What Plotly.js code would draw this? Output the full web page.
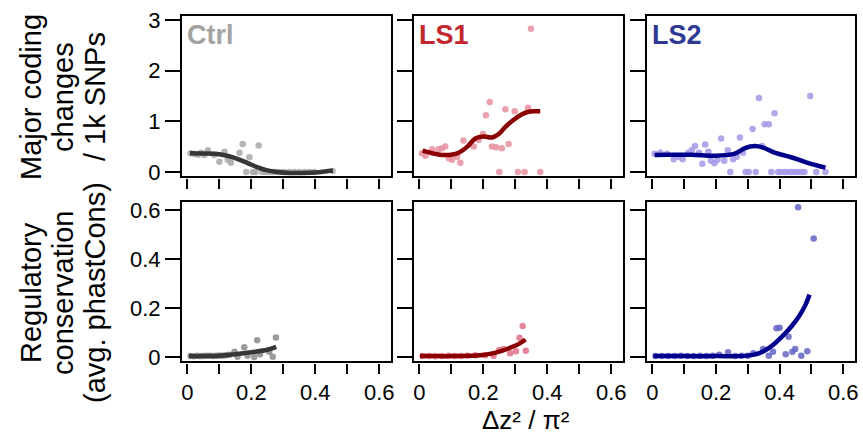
<!DOCTYPE html>
<html>
<head>
<meta charset="utf-8">
<script src="https://cdn.plot.ly/plotly-3.0.1.min.js"></script>
<style>html,body{margin:0;padding:0;background:#fff;} #chart{width:863px;height:435px;}</style>
</head>
<body>
<div id="chart"></div>
<script>
// ---------- data ----------
const panelLabels = ['Ctrl', 'LS1', 'LS2'];
const rowTitles = [['Major coding', 'changes', '/ 1k SNPs'], ['Regulatory', 'conservation', '(avg. phastCons)']];
const xTitle = 'Δz² / π²';
const xTickVals = [0, 0.2, 0.4, 0.6];
const xTickText = ['0', '0.2', '0.4', '0.6'];
const xMinorTickVals = [0.1, 0.3, 0.5];
const topYTickVals = [0, 1, 2, 3];
const topYTickText = ['0', '1', '2', '3'];
const botYTickVals = [0, 0.2, 0.4, 0.6];
const botYTickText = ['0', '0.2', '0.4', '0.6'];

// Top row: major coding changes / 1k SNPs
const ctrlTopX = [0.01,0.022,0.033,0.043,0.053,0.064,0.084,0.1,0.116,0.126,0.136,0.163,0.173,0.184,0.194,0.205,0.213,0.223,0.234,0.246,0.256,0.267,0.277,0.288,0.303,0.319,0.334,0.35,0.366,0.381,0.397,0.454];
const ctrlTopY = [0.37,0.355,0.34,0.38,0.335,0.43,0.335,0.2,0.40,0.24,0.18,0.38,0.55,0,0.29,0,0,0.52,0,0,0,0,0,0,0,0,0,0,0,0,0,0.02];
const ctrlTopFitX = [0.008,0.05,0.10,0.13,0.16,0.19,0.22,0.25,0.28,0.32,0.36,0.40,0.43,0.455];
const ctrlTopFitY = [0.37,0.365,0.35,0.31,0.25,0.17,0.09,0.03,0.0,-0.02,-0.02,-0.01,0.01,0.03];

const ls1TopX = [0.008,0.019,0.04,0.06,0.071,0.081,0.092,0.102,0.118,0.128,0.138,0.17,0.185,0.199,0.208,0.22,0.227,0.24,0.25,0.258,0.269,0.279,0.298,0.308,0.329,0.34,0.349,0.378];
const ls1TopY = [0.37,0.32,0.45,0.45,0.47,0.50,0.27,0.24,0.30,0.18,0.62,0.50,0.63,0.75,1.12,1.38,0.50,0.49,0,0.47,1.24,0.55,1.20,0,0,1.27,2.83,0];
const ls1TopFitX = [0.01,0.04,0.071,0.10,0.123,0.15,0.175,0.2,0.227,0.25,0.269,0.295,0.321,0.342,0.36,0.378];
const ls1TopFitY = [0.42,0.37,0.335,0.34,0.38,0.50,0.66,0.70,0.68,0.76,0.89,1.03,1.14,1.19,1.20,1.20];

const ls2TopX = [0.007,0.025,0.046,0.067,0.082,0.095,0.113,0.124,0.134,0.147,0.157,0.166,0.176,0.184,0.195,0.205,0.216,0.226,0.237,0.245,0.254,0.265,0.275,0.285,0.293,0.303,0.315,0.325,0.335,0.345,0.353,0.366,0.374,0.384,0.395,0.405,0.416,0.426,0.436,0.447,0.457,0.468,0.478,0.496,0.515,0.544];
const ls2TopY = [0.36,0.38,0.36,0.25,0.30,0.25,0.38,0.43,0.51,0.38,0.16,0.54,0.40,0.22,0.17,0.24,0.66,0.22,0.43,0,0.25,0.30,0.68,0.38,0,0,0.85,0,1.46,0.51,0.94,0.94,0,1.16,0,0,0,0,0,0,0,0,0,1.50,0,0];
const ls2TopFitX = [0.007,0.05,0.124,0.197,0.259,0.291,0.322,0.348,0.384,0.436,0.488,0.544];
const ls2TopFitY = [0.335,0.34,0.34,0.32,0.36,0.47,0.51,0.48,0.38,0.29,0.18,0.085];

// Bottom row: regulatory conservation (avg. phastCons)
const ctrlBotX = [0.01,0.02,0.03,0.04,0.05,0.06,0.07,0.08,0.09,0.10,0.11,0.12,0.13,0.147,0.157,0.178,0.188,0.209,0.218,0.227,0.256,0.267,0.277];
const ctrlBotY = [0.004,0.003,0.005,0.004,0.004,0.006,0.005,0.004,0.006,0.007,0.006,0.008,0.01,0.022,0.001,0.04,0.006,0.0,0.069,0.012,0.022,0.001,0.08];
const ctrlBotFitX = [0.005,0.05,0.1,0.15,0.2,0.25,0.278];
const ctrlBotFitY = [0.004,0.004,0.006,0.012,0.02,0.03,0.042];

const ls1BotX = [0.01,0.03,0.05,0.07,0.09,0.11,0.13,0.15,0.175,0.206,0.232,0.25,0.263,0.284,0.302,0.313,0.323,0.333];
const ls1BotY = [0.004,0.004,0.003,0.004,0.005,0.004,0.004,0.005,0.008,0.008,0.006,0.029,0.033,0.016,0.024,0.079,0.127,0.026];
const ls1BotFitX = [0.002,0.05,0.1,0.15,0.19,0.22,0.25,0.28,0.31,0.332];
const ls1BotFitY = [0.004,0.004,0.004,0.005,0.008,0.013,0.022,0.036,0.053,0.072];

const ls2BotX = [0.01,0.03,0.05,0.07,0.09,0.11,0.13,0.15,0.17,0.19,0.21,0.238,0.26,0.28,0.30,0.317,0.348,0.366,0.379,0.39,0.40,0.419,0.428,0.44,0.449,0.458,0.468,0.487,0.507];
const ls2BotY = [0.004,0.004,0.004,0.004,0.005,0.004,0.004,0.005,0.004,0.005,0.01,0.02,0.004,0.006,0.006,0.016,0.033,0.006,0.022,0.118,0.12,0.012,0.083,0.022,0.033,0.611,0.006,0.024,0.484];
const ls2BotFitX = [0.003,0.1,0.2,0.29,0.32,0.34,0.36,0.38,0.40,0.42,0.44,0.46,0.48,0.494];
const ls2BotFitY = [0.004,0.004,0.004,0.005,0.01,0.018,0.032,0.05,0.074,0.10,0.13,0.165,0.21,0.255];

// ---------- styling ----------
const W = 863, H = 435;
const FONT = 'Liberation Sans, Arial, sans-serif';
const labelColors = ['#a3a3a3', '#c1272d', '#2e3a94'];
const lineColors = ['#363636', '#8b0000', '#00008b'];
const topPtColors = ['#a8a8a8', '#e6909f', '#a597e6'];
const botPtColors = ['#8a8a8a', '#e0708a', '#6464c6'];

const colPx = [[181, 392], [413, 624], [646, 856]];
const rowPx = [[15, 177], [201, 362]];

const series = [
  [ [ctrlTopX, ctrlTopY, ctrlTopFitX, ctrlTopFitY], [ls1TopX, ls1TopY, ls1TopFitX, ls1TopFitY], [ls2TopX, ls2TopY, ls2TopFitX, ls2TopFitY] ],
  [ [ctrlBotX, ctrlBotY, ctrlBotFitX, ctrlBotFitY], [ls1BotX, ls1BotY, ls1BotFitX, ls1BotFitY], [ls2BotX, ls2BotY, ls2BotFitX, ls2BotFitY] ]
];

const traces = [];
const layout = {
  width: W, height: H,
  margin: {l: 0, r: 0, t: 0, b: 0},
  paper_bgcolor: '#fff', plot_bgcolor: '#fff',
  showlegend: false,
  font: {family: FONT, color: '#000', size: 22},
  shapes: [], annotations: []
};

for (let r = 0; r < 2; r++) {
  for (let c = 0; c < 3; c++) {
    const idx = r * 3 + c + 1;
    const xa = idx === 1 ? 'x' : 'x' + idx;
    const ya = idx === 1 ? 'y' : 'y' + idx;
    const [px, py, fx, fy] = series[r][c];
    traces.push({
      type: 'scatter', mode: 'markers', x: px, y: py, xaxis: xa, yaxis: ya,
      marker: {size: 6.5, color: r === 0 ? topPtColors[c] : botPtColors[c], opacity: 0.85, line: {width: 0}},
      hoverinfo: 'skip'
    });
    traces.push({
      type: 'scatter', mode: 'lines', x: fx, y: fy, xaxis: xa, yaxis: ya,
      line: {color: lineColors[c], width: 4.5, shape: 'spline', smoothing: 1},
      hoverinfo: 'skip'
    });
    const xdom = [colPx[c][0] / W, colPx[c][1] / W];
    const ydom = [1 - rowPx[r][1] / H, 1 - rowPx[r][0] / H];
    layout['xaxis' + (idx === 1 ? '' : idx)] = {
      domain: xdom, range: [-0.02, 0.64],
      anchor: 'free', position: 1 - (rowPx[r][1] + 1) / H,
      showgrid: false, zeroline: false, showline: false,
      tickmode: 'array', tickvals: xTickVals, ticktext: xTickText,
      ticks: 'outside', ticklen: 10, tickwidth: 2, tickcolor: '#000',
      minor: {tickmode: 'array', tickvals: xMinorTickVals, ticks: 'outside', ticklen: 10, tickwidth: 2, tickcolor: '#000', showgrid: false},
      showticklabels: r === 1,
      tickfont: {family: FONT, size: 22, color: '#000'}
    };
    layout['yaxis' + (idx === 1 ? '' : idx)] = {
      domain: ydom, range: r === 0 ? [-0.1, 3.1] : [-0.02, 0.637],
      anchor: 'free', position: (colPx[c][0] - 1) / W,
      showgrid: false, zeroline: false, showline: false,
      tickmode: 'array',
      tickvals: r === 0 ? topYTickVals : botYTickVals,
      ticktext: r === 0 ? topYTickText : botYTickText,
      ticks: 'outside', ticklen: 15, tickwidth: 2, tickcolor: '#000',
      showticklabels: c === 0,
      tickfont: {family: FONT, size: 22, color: '#000'}
    };
    layout.shapes.push({
      type: 'rect', xref: xa + ' domain', yref: ya + ' domain',
      x0: 0, x1: 1, y0: 0, y1: 1, line: {color: '#000', width: 2}, layer: 'above'
    });
    if (r === 0) {
      layout.annotations.push({
        text: '<b>' + panelLabels[c] + '</b>', xref: 'paper', yref: 'paper',
        x: (colPx[c][0] + 4) / W, y: 1 - 34.5 / H, xanchor: 'left', yanchor: 'middle',
        showarrow: false, font: {family: FONT, size: 27, color: labelColors[c]}
      });
    }
  }
}

// row titles (rotated), one annotation per line
const titleLineX = [31, 63, 95];
const titleCenterY = [97, 293];
for (let r = 0; r < 2; r++) {
  for (let k = 0; k < 3; k++) {
    layout.annotations.push({
      text: rowTitles[r][k], xref: 'paper', yref: 'paper',
      x: titleLineX[k] / W, y: 1 - titleCenterY[r] / H,
      xanchor: 'center', yanchor: 'middle', textangle: -90,
      showarrow: false, font: {family: FONT, size: 29, color: '#000'}
    });
  }
}
// x title
layout.annotations.push({
  text: xTitle, xref: 'paper', yref: 'paper',
  x: 526 / W, y: 1 - 420 / H, xanchor: 'center', yanchor: 'middle',
  showarrow: false, font: {family: FONT, size: 26, color: '#000'}
});

Plotly.newPlot('chart', traces, layout, {displayModeBar: false, staticPlot: true});
</script>
</body>
</html>
